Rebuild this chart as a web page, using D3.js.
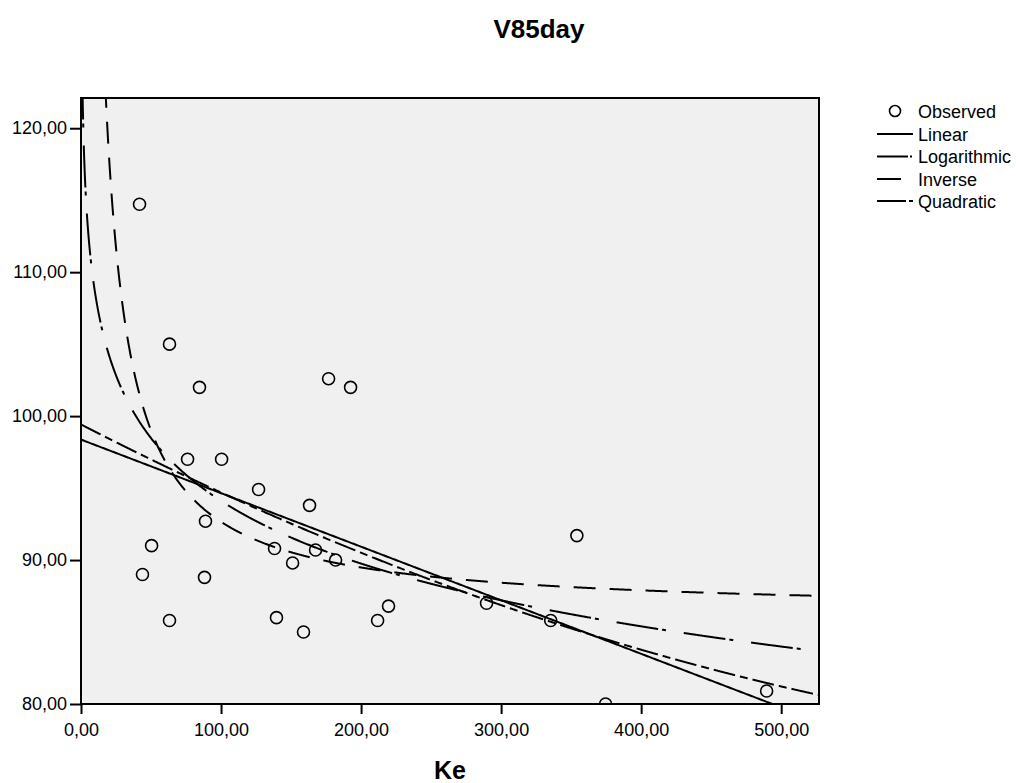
<!DOCTYPE html>
<html>
<head>
<meta charset="utf-8">
<script src="https://cdn.jsdelivr.net/npm/d3@7"></script>
<style>
  html, body { margin: 0; padding: 0; background: #ffffff; }
  svg { display: block; font-family: "Liberation Sans", Arial, sans-serif; }
</style>
</head>
<body>
<svg id="chart" width="1016" height="783"></svg>
<script>
// Observed cases: Ke vs V85day
const keValues  = [41.8, 63.2, 84.6, 76.1, 100.4, 88.9, 50.4, 43.9, 88.2, 63.2,
                   126.8, 138.2, 139.6, 151.1, 158.9, 163.2, 167.5, 176.8, 192.5, 181.8,
                   211.8, 219.6, 289.6, 335.4, 354.1, 374.6, 489.6];
const v85Values = [114.72, 105.0, 102.0, 97.0, 97.0, 92.7, 91.0, 89.0, 88.8, 85.8,
                   94.9, 90.8, 86.0, 89.8, 85.0, 93.8, 90.7, 102.6, 102.0, 90.0,
                   85.8, 86.8, 87.0, 85.8, 91.7, 80.0, 80.9];

// Curve estimation coefficients
const linearCoef    = [98.37, -0.03721];          // b0 + b1*x
const logCoef       = [123.07, -6.288];           // b0 + b1*ln(x)
const inverseCoef   = [86.31, 634.8];             // b0 + b1/x
const quadraticCoef = [99.42, -0.0500, 2.72e-5];  // b0 + b1*x + b2*x^2

const xTicks = [0, 100, 200, 300, 400, 500];
const yTicks = [80, 90, 100, 110, 120];
const xDomain = [0, 527];
const yDomain = [80, 122.1];

const legendLabels = ["Observed", "Linear", "Logarithmic", "Inverse", "Quadratic"];

const models = [
  { name: "Linear",      f: x => linearCoef[0] + linearCoef[1] * x,                         dash: null },
  { name: "Logarithmic", f: x => logCoef[0] + logCoef[1] * Math.log(x),                     dash: "42,4,4,18" },
  { name: "Inverse",     f: x => inverseCoef[0] + inverseCoef[1] / x,                       dash: "22,14" },
  { name: "Quadratic",   f: x => quadraticCoef[0] + quadraticCoef[1] * x + quadraticCoef[2] * x * x, dash: "22,5,8,5" }
];

const fmt = v => d3.format(".2f")(v).replace(".", ",");

const svg = d3.select("#chart");
const plot = { left: 81, right: 819, top: 98, bottom: 704 };

const x = d3.scaleLinear().domain(xDomain).range([plot.left, plot.right]);
const y = d3.scaleLinear().domain(yDomain).range([plot.bottom, plot.top]);

// Title
svg.append("text")
  .attr("x", 539).attr("y", 38)
  .attr("text-anchor", "middle")
  .attr("font-size", 26).attr("font-weight", "bold")
  .text("V85day");

// Plot background
svg.append("rect")
  .attr("x", plot.left).attr("y", plot.top)
  .attr("width", plot.right - plot.left).attr("height", plot.bottom - plot.top)
  .attr("fill", "#f0f0f0");

svg.append("defs").append("clipPath").attr("id", "plotClip")
  .append("rect")
  .attr("x", plot.left).attr("y", plot.top)
  .attr("width", plot.right - plot.left).attr("height", plot.bottom - plot.top);

const inner = svg.append("g").attr("clip-path", "url(#plotClip)");

// Fitted curves
const nSteps = 1200;
const xs = d3.range(nSteps + 1).map(i => xDomain[0] + (xDomain[1] - xDomain[0]) * i / nSteps);

models.forEach(m => {
  const pts = xs.filter(v => v > 0 || m.name === "Linear" || m.name === "Quadratic")
    .map(v => [v, m.f(v)])
    .filter(p => isFinite(p[1]))
    .map(p => [p[0], Math.max(Math.min(p[1], 200), 40)]);
  const line = d3.line().x(d => x(d[0])).y(d => y(d[1]));
  inner.append("path")
    .attr("d", line(pts))
    .attr("fill", "none")
    .attr("stroke", "#000")
    .attr("stroke-width", 2)
    .attr("stroke-dasharray", m.dash);
});

// Observed points
inner.selectAll("circle.obs")
  .data(d3.zip(keValues, v85Values))
  .join("circle")
  .attr("class", "obs")
  .attr("cx", d => x(d[0])).attr("cy", d => y(d[1]))
  .attr("r", 6)
  .attr("fill", "none")
  .attr("stroke", "#000")
  .attr("stroke-width", 1.6);

// Frame
svg.append("rect")
  .attr("x", plot.left).attr("y", plot.top)
  .attr("width", plot.right - plot.left).attr("height", plot.bottom - plot.top)
  .attr("fill", "none").attr("stroke", "#000").attr("stroke-width", 2);

// Axes
const xAxis = d3.axisBottom(x).tickValues(xTicks).tickFormat(fmt).tickSize(10).tickPadding(9);
const yAxis = d3.axisLeft(y).tickValues(yTicks).tickFormat(fmt).tickSize(11).tickPadding(3);

const gx = svg.append("g").attr("transform", `translate(0,${plot.bottom})`).call(xAxis);
const gy = svg.append("g").attr("transform", `translate(${plot.left},0)`).call(yAxis);

[gx, gy].forEach(g => {
  g.select(".domain").remove();
  g.selectAll(".tick line").attr("stroke", "#000").attr("stroke-width", 2);
  g.selectAll(".tick text")
    .attr("fill", "#000")
    .attr("font-size", 18)
    .attr("font-family", "'Liberation Sans', Arial, sans-serif");
});

// Axis title
svg.append("text")
  .attr("x", 450).attr("y", 779)
  .attr("text-anchor", "middle")
  .attr("font-size", 25).attr("font-weight", "bold")
  .text("Ke");

// Legend
const legendRowsY = [111, 134, 156.5, 179, 201];
const legend = svg.append("g");
legendLabels.forEach((label, i) => {
  const ly = legendRowsY[i];
  if (i === 0) {
    legend.append("circle")
      .attr("cx", 895).attr("cy", ly).attr("r", 5.5)
      .attr("fill", "none").attr("stroke", "#000").attr("stroke-width", 1.6);
  } else {
    const m = models[i - 1];
    legend.append("line")
      .attr("x1", 877).attr("x2", 913)
      .attr("y1", ly).attr("y2", ly)
      .attr("stroke", "#000").attr("stroke-width", 2)
      .attr("stroke-dasharray", m.name === "Logarithmic" ? "31,2,2,20"
                               : m.name === "Inverse" ? "24,30"
                               : m.name === "Quadratic" ? "29,3,5,10" : null);
  }
  legend.append("text")
    .attr("x", 918).attr("y", ly + 6.5)
    .attr("font-size", 18)
    .text(label);
});
</script>
</body>
</html>
